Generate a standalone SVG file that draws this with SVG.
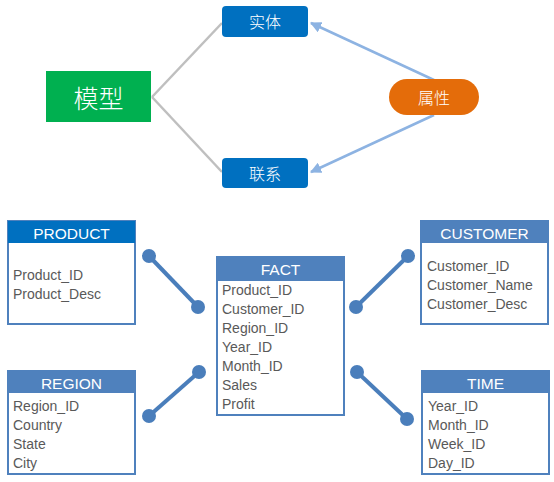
<svg xmlns="http://www.w3.org/2000/svg" width="554" height="482" viewBox="0 0 554 482">
<defs>
<style>
.cjk{font-family:"Noto Sans CJK SC","Liberation Sans",sans-serif;font-weight:300;fill:#fff;text-anchor:middle;dominant-baseline:central}
.hd{font-family:"Liberation Sans",Arial,sans-serif;font-size:15.5px;fill:#fff;text-anchor:middle;dominant-baseline:central}
.row{font-family:"Liberation Sans",Arial,sans-serif;font-size:14px;fill:#595959;dominant-baseline:central}
.tb{fill:#fff;stroke:#4f81bd;stroke-width:2}
.gl{stroke:#bfbfbf;stroke-width:2.5;fill:none}
.bl{stroke:#8db3e2;stroke-width:2.5;fill:none}
.db{stroke:#4a7ebb;stroke-width:4}
.dot{fill:#4a7ebb}
</style>
<marker id="ah" viewBox="0 0 10 10" refX="9" refY="5" markerWidth="4.5" markerHeight="4.5" orient="auto" markerUnits="strokeWidth">
<path d="M0,0 L10,5 L0,10 z" fill="#8db3e2"/>
</marker>
</defs>
<g id="connectors">
<line class="gl" x1="152" y1="97" x2="222" y2="23"/>
<line class="gl" x1="152" y1="97" x2="222" y2="172"/>
<line class="bl" x1="434" y1="80" x2="311" y2="23" marker-end="url(#ah)"/>
<line class="bl" x1="434" y1="115" x2="311" y2="172" marker-end="url(#ah)"/>
<line class="db" x1="149" y1="256" x2="198" y2="307"/>
<circle class="dot" cx="149" cy="256" r="7"/>
<circle class="dot" cx="198" cy="307" r="7"/>
<line class="db" x1="199" y1="372" x2="149" y2="416"/>
<circle class="dot" cx="199" cy="372" r="7"/>
<circle class="dot" cx="149" cy="416" r="7"/>
<line class="db" x1="408" y1="256" x2="356" y2="307"/>
<circle class="dot" cx="408" cy="256" r="7"/>
<circle class="dot" cx="356" cy="307" r="7"/>
<line class="db" x1="357" y1="372" x2="407" y2="419"/>
<circle class="dot" cx="357" cy="372" r="7"/>
<circle class="dot" cx="407" cy="419" r="7"/>
</g>
<g id="model">
<rect x="46" y="71" width="105" height="51" fill="#00b050"/>
<text class="cjk" x="98.5" y="97" font-size="25">模型</text>
</g>
<g id="entity">
<rect x="222" y="6" width="86" height="31" rx="4" fill="#0070c0"/>
<text class="cjk" x="265" y="21" font-size="16">实体</text>
</g>
<g id="relation">
<rect x="222" y="158" width="86" height="30" rx="4" fill="#0070c0"/>
<text class="cjk" x="265" y="173" font-size="16">联系</text>
</g>
<g id="attribute">
<rect x="389" y="79" width="90" height="36" rx="18" fill="#e46c0a"/>
<text class="cjk" x="434" y="97" font-size="16">属性</text>
</g>
<g id="product">
<rect class="tb" x="8" y="221" width="127" height="103"/>
<rect x="8" y="221" width="127" height="22" fill="#0070c0"/>
<text class="hd" x="71.5" y="233">PRODUCT</text>
<text class="row" x="13" y="275">Product_ID</text>
<text class="row" x="13" y="294">Product_Desc</text>
</g>
<g id="region">
<rect class="tb" x="8" y="371" width="127" height="103"/>
<rect x="8" y="371" width="127" height="22" fill="#4f81bd"/>
<text class="hd" x="71.5" y="383">REGION</text>
<text class="row" x="13" y="406">Region_ID</text>
<text class="row" x="13" y="425">Country</text>
<text class="row" x="13" y="444">State</text>
<text class="row" x="13" y="463">City</text>
</g>
<g id="fact">
<rect class="tb" x="217" y="257" width="127" height="158"/>
<rect x="217" y="257" width="127" height="24" fill="#4f81bd"/>
<text class="hd" x="280.5" y="269">FACT</text>
<text class="row" x="222" y="290">Product_ID</text>
<text class="row" x="222" y="309">Customer_ID</text>
<text class="row" x="222" y="328">Region_ID</text>
<text class="row" x="222" y="347">Year_ID</text>
<text class="row" x="222" y="366">Month_ID</text>
<text class="row" x="222" y="385">Sales</text>
<text class="row" x="222" y="404">Profit</text>
</g>
<g id="customer">
<rect class="tb" x="421" y="221" width="127" height="103"/>
<rect x="421" y="221" width="127" height="22" fill="#4f81bd"/>
<text class="hd" x="484.5" y="233">CUSTOMER</text>
<text class="row" x="427" y="266">Customer_ID</text>
<text class="row" x="427" y="285">Customer_Name</text>
<text class="row" x="427" y="304">Customer_Desc</text>
</g>
<g id="time">
<rect class="tb" x="422" y="371" width="127" height="103"/>
<rect x="422" y="371" width="127" height="22" fill="#4f81bd"/>
<text class="hd" x="485.5" y="383">TIME</text>
<text class="row" x="428" y="406">Year_ID</text>
<text class="row" x="428" y="425">Month_ID</text>
<text class="row" x="428" y="444">Week_ID</text>
<text class="row" x="428" y="463">Day_ID</text>
</g>
</svg>
